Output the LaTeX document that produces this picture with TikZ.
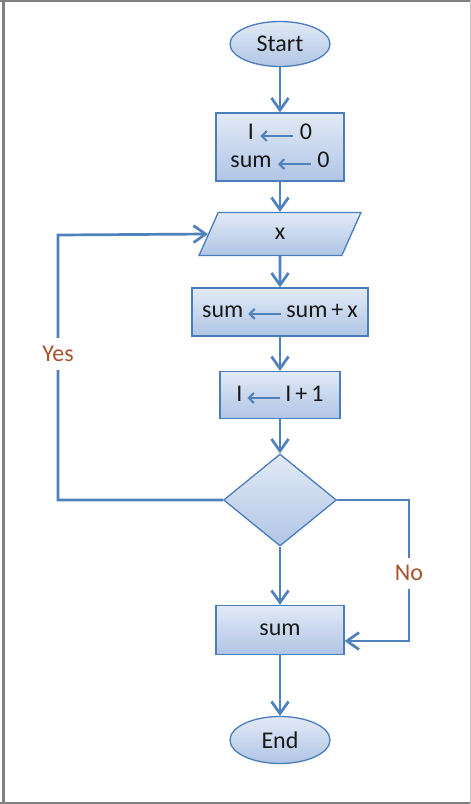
\documentclass[tikz,border=0pt]{standalone}
\usepackage{fontspec}
\setmainfont{Carlito}
\usetikzlibrary{shapes.geometric,arrows.meta}
\definecolor{edgeblue}{RGB}{74,126,187}
\definecolor{lineblue}{RGB}{79,129,189}
\definecolor{topfill}{RGB}{226,234,246}
\definecolor{botfill}{RGB}{176,197,229}
\definecolor{lblbrown}{RGB}{166,82,44}
\definecolor{framegray}{RGB}{128,128,128}
\newcommand{\lto}{\tikz[baseline=-3.5pt]{\draw[line width=2pt,lineblue,-{Straight Barb[length=5pt,width=10pt]}] (0pt,0pt) -- (-33pt,0pt);}}
\begin{document}
\begin{tikzpicture}[x=1pt,y=-1pt,
  every node/.style={font=\fontsize{24}{28}\selectfont,text=black!90},
  shp/.style={draw=edgeblue,line width=1.3pt,top color=topfill,bottom color=botfill,inner sep=0pt},
  term/.style={shp,ellipse,minimum width=100pt,minimum height=45pt},
  proc/.style={shp,rectangle,minimum height=48pt},
  flow/.style={lineblue,line width=2.7pt,-{Straight Barb[length=12pt,width=17pt]}},
  lbl/.style={fill=white,text=lblbrown,inner sep=2pt,inner ysep=8pt}]
\useasboundingbox (0,0) rectangle (471,804);
\fill[white] (0,0) rectangle (471,804);
% frame
\draw[framegray,line width=2pt] (0,1) -- (471,1);
\draw[framegray,line width=2pt] (0,803) -- (471,803);
\draw[framegray,line width=3pt] (3,0) -- (3,804);
\draw[framegray!50,line width=1pt] (470.5,0) -- (470.5,804);
% shapes
\node[term] (start) at (280,44) {Start};
\node[proc,minimum width=128pt,minimum height=68pt,align=center] (init) at (280,147) {I \lto\ 0\\sum \lto\ 0};
\node[shp,trapezium,trapezium left angle=82,trapezium right angle=98,trapezium stretches=true,minimum width=162pt,minimum height=43pt] (input) at (280,234) {x};
\node[proc,minimum width=176pt] (acc) at (280,312) {sum\,\lto\,sum\,+\,x};
\node[proc,minimum width=120pt,minimum height=47pt] (inc) at (280,395) {I\,\lto\,I\,+\,1};
\node[shp,diamond,aspect=1.23,minimum width=113pt,minimum height=92pt] (test) at (280,500) {};
\node[proc,minimum width=128pt,minimum height=49pt] (out) at (280,630) {sum};
\node[term,minimum height=47pt] (stop) at (280,740) {End};
% loop points
\coordinate (yesA) at (58,500);
\coordinate (yesB) at (58,235);
\coordinate (noA) at (409,500);
\coordinate (noB) at (409,641);
% connectors
\draw[flow] (start) -- (init);
\draw[flow] (init) -- (input);
\draw[flow] (input) -- (acc);
\draw[flow] (acc) -- (inc);
\draw[flow] (inc) -- (test);
\draw[flow] (test) -- (out);
\draw[flow] (out) -- (stop);
\draw[flow] (test.west) -- (yesA) -- node[lbl,pos=0.55]{Yes} (yesB) -- (input.west);
\draw[flow] (test.east) -- (noA) -- node[lbl,pos=0.52]{No} (noB) -- (out.east |- noB);
\end{tikzpicture}
\end{document}
